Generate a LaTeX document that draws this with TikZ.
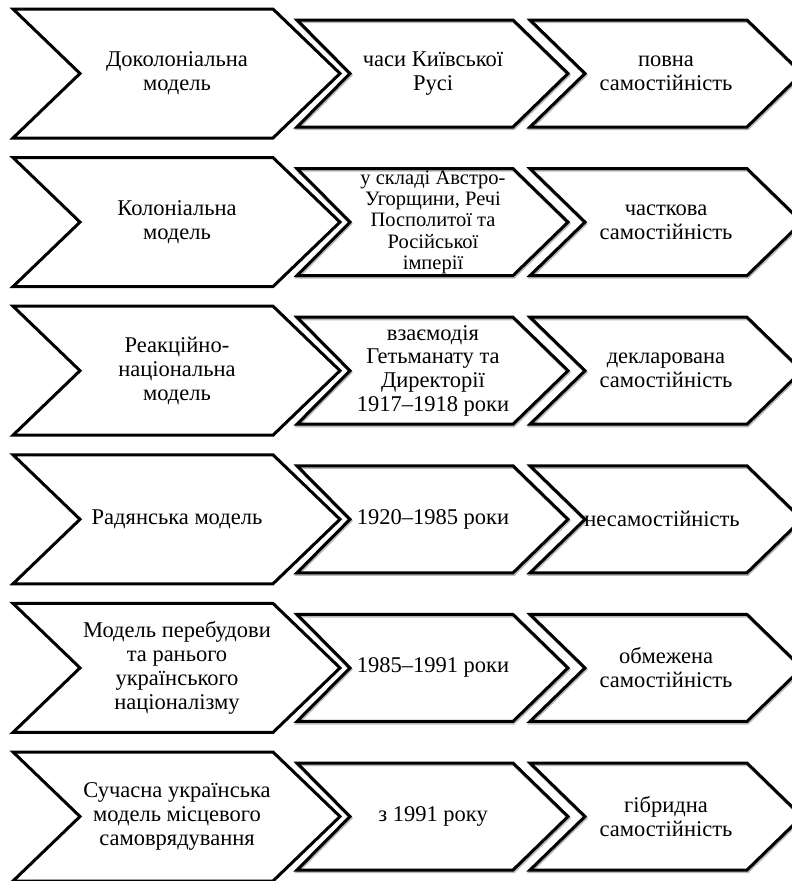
\documentclass[tikz,border=0pt]{standalone}
\usepackage{fontspec}
\setmainfont{Liberation Serif}
\newfontfamily\ukrfont{Liberation Serif}
\usepackage{tikz}

\tikzset{
  chev/.style={line width=3pt, line join=miter},
  chevshadow/.style={line width=3pt, line join=miter, draw=gray!55, shift={(0.8,1.6)}},
  txt/.style={align=center, inner sep=0pt, font=\ukrfont\fontsize{22.5}{23.8}\selectfont},
  txtsmall/.style={txt, font=\ukrfont\fontsize{20.5}{21.3}\selectfont}
}

% three chevrons of one row, #1 = top of the row
\newcommand{\chevrow}[1]{%
  \draw[chev] (13,#1) -- (273,#1) -- (340,#1+64.5) -- (273,#1+129)
    -- (13,#1+129) -- (80,#1+64.5) -- cycle;
  % small ones get a light shadow
  \draw[chevshadow] (297,#1+11) -- (513,#1+11) -- (568,#1+64.5) -- (513,#1+118)
    -- (297,#1+118) -- (350,#1+64.5) -- cycle;
  \draw[chevshadow] (530,#1+11) -- (747,#1+11) -- (802,#1+64.5) -- (747,#1+118)
    -- (530,#1+118) -- (585,#1+64.5) -- cycle;
  \draw[chev] (297,#1+11) -- (513,#1+11) -- (568,#1+64.5) -- (513,#1+118)
    -- (297,#1+118) -- (350,#1+64.5) -- cycle;
  \draw[chev] (530,#1+11) -- (747,#1+11) -- (802,#1+64.5) -- (747,#1+118)
    -- (530,#1+118) -- (585,#1+64.5) -- cycle;
}

\begin{document}
\begin{tikzpicture}[x=1pt,y=-1pt]
        \useasboundingbox (0,0) rectangle (792,881);
        \clip (0,0) rectangle (792,881);
        % Рядки
        \chevrow{9}
        \chevrow{157.6}
        \chevrow{306.2}
        \chevrow{454.8}
        \chevrow{603.4}
        \chevrow{752}
        % Моделі
        \node[txt] (m1) at (177,73.5) {Доколоніальна\\модель};
        \node[txt] (m2) at (177,222.1) {Колоніальна\\модель};
        \node[txt] (m3) at (177,370.7) {Реакційно-\\національна\\модель};
        \node[txt] (m4) at (177,519.3) {Радянська модель};
        \node[txt] (m5) at (177,667.9) {Модель перебудови\\та ранього\\українського\\націоналізму};
        \node[txt] (m6) at (177,816.5) {Сучасна українська\\модель місцевого\\самоврядування};
        % Періоди
        \node[txt] (p1) at (433,73.5) {часи Київської\\Русі};
        \node[txtsmall] (p2) at (433,222.1) {у складі Австро-\\Угорщини, Речі\\Посполитої та\\Російської\\імперії};
        \node[txt] (p3) at (433,370.7) {взаємодія\\Гетьманату та\\Директорії\\1917–1918 роки};
        \node[txt] (p4) at (433,519.3) {1920–1985 роки};
        \node[txt] (p5) at (433,667.9) {1985–1991 роки};
        \node[txt] (p6) at (433,816.5) {з 1991 року};
        % Самостійність
        \node[txt] (s1) at (666,73.5) {повна\\самостійність};
        \node[txt] (s2) at (666,222.1) {часткова\\самостійність};
        \node[txt] (s3) at (666,370.7) {декларована\\самостійність};
        \node[txt] (s4) at (662,519.3) {несамостійність};
        \node[txt] (s5) at (666,667.9) {обмежена\\самостійність};
        \node[txt] (s6) at (666,816.5) {гібридна\\самостійність};
\end{tikzpicture}
\end{document}
